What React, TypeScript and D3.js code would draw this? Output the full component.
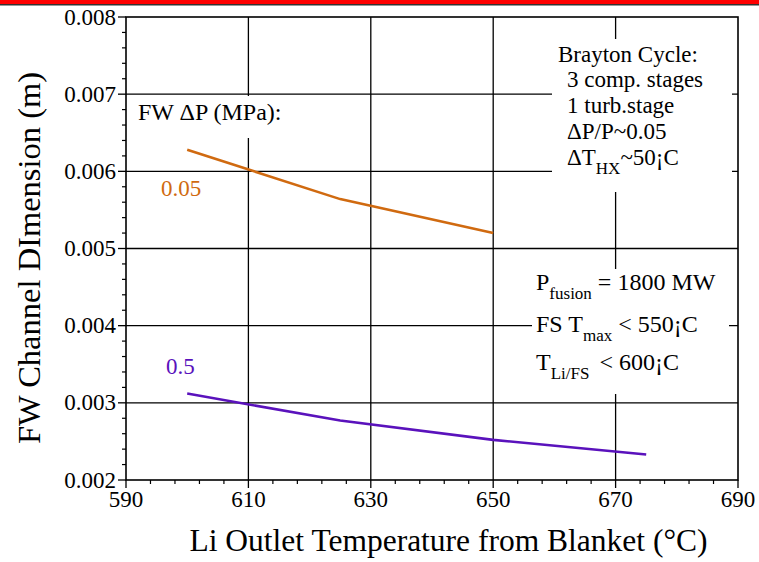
import React from 'react';
import * as d3 from 'd3';

const tempsA = [600, 625, 650];
const dimA = [0.00628, 0.00564, 0.0052];
const tempsB = [600, 625, 650, 675];
const dimB = [0.00312, 0.00277, 0.00252, 0.00233];
const xTicks = [590, 610, 630, 650, 670, 690];
const yTicks = [0.002, 0.003, 0.004, 0.005, 0.006, 0.007, 0.008];
const xGrid = [610, 630, 650, 670];
const yGrid = [0.003, 0.004, 0.005, 0.006, 0.007];

const W = 759;
const H = 562;
const L = 126, R = 738, T = 17, B = 480;
const FONT = '"Liberation Serif", "Times New Roman", serif';
const ORANGE = '#d06a10';
const PURPLE = '#5a12bc';

export default function App() {
  const x = d3.scaleLinear().domain([590, 690]).range([L, R]);
  const y = d3.scaleLinear().domain([0.002, 0.008]).range([B, T]);
  const line = d3.line<[number, number]>().x(d => x(d[0])).y(d => y(d[1]));
  const ptsA = tempsA.map((t, i) => [t, dimA[i]] as [number, number]);
  const ptsB = tempsB.map((t, i) => [t, dimB[i]] as [number, number]);
  const xMinor = d3.range(590, 690.001, 4).filter(v => Math.abs((v - 590) % 20) > 0.01);
  const yMinor = d3.range(0, 31).map(i => 0.002 + i * 0.0002).filter((v, i) => i % 5 !== 0);

  return (
    <svg width={W} height={H} style={{ position: 'absolute', left: 0, top: 0, background: '#fff' }} fontFamily={FONT}>
      <rect x={0} y={0} width={W} height={4} fill="#ff0000" />
      <rect x={0} y={4} width={W} height={1.5} fill="#333" />
      {/* grid */}
      {xGrid.map(v => (
        <line key={'gx' + v} x1={x(v)} x2={x(v)} y1={T} y2={B} stroke="#000" strokeWidth={1.3} />
      ))}
      {yGrid.map(v => (
        <line key={'gy' + v} x1={L} x2={R} y1={y(v)} y2={y(v)} stroke="#000" strokeWidth={1.3} />
      ))}
      {/* white label boxes */}
      <rect x={133} y={96} width={165} height={42} fill="#fff" />
      <rect x={552} y={39} width={180} height={153} fill="#fff" />
      <rect x={532} y={269} width={197} height={125} fill="#fff" />
      {/* frame */}
      <rect x={L} y={T} width={R - L} height={B - T} fill="none" stroke="#000" strokeWidth={1.6} />
      {/* ticks */}
      {xTicks.map(v => (
        <g key={'xt' + v}>
          <line x1={x(v)} x2={x(v)} y1={B} y2={B + 8} stroke="#000" strokeWidth={1.3} />
          <text x={x(v)} y={507} fontSize={23} textAnchor="middle">{v}</text>
        </g>
      ))}
      {xMinor.map(v => (
        <line key={'xm' + v} x1={x(v)} x2={x(v)} y1={B} y2={B + 4} stroke="#000" strokeWidth={1.2} />
      ))}
      {yTicks.map(v => (
        <g key={'yt' + v}>
          <line x1={L - 8} x2={L} y1={y(v)} y2={y(v)} stroke="#000" strokeWidth={1.3} />
          <text x={116} y={y(v) + 7.5} fontSize={23} textAnchor="end">{v.toFixed(3)}</text>
        </g>
      ))}
      {yMinor.map(v => (
        <line key={'ym' + v} x1={L - 4} x2={L} y1={y(v)} y2={y(v)} stroke="#000" strokeWidth={1.2} />
      ))}
      {/* series */}
      <path d={line(ptsA) || ''} fill="none" stroke={ORANGE} strokeWidth={2.6} />
      <path d={line(ptsB) || ''} fill="none" stroke={PURPLE} strokeWidth={2.6} />
      <text x={161} y={196} fontSize={23} fill={ORANGE}>0.05</text>
      <text x={166} y={374} fontSize={23} fill={PURPLE}>0.5</text>
      <text x={138} y={120} fontSize={24}>FW ΔP (MPa):</text>
      {/* Brayton */}
      <g fontSize={23}>
        <text x={558} y={62}>Brayton Cycle:</text>
        <text x={567} y={87}>3 comp. stages</text>
        <text x={567} y={113}>1 turb.stage</text>
        <text x={567} y={139}>ΔP/P~0.05</text>
        <text x={567} y={165}>ΔT<tspan fontSize={17} dy={9}>HX</tspan><tspan dy={-9}>~50¡C</tspan></text>
      </g>
      <g fontSize={24}>
        <text x={536} y={290}>P<tspan fontSize={17} dy={9}>fusion</tspan><tspan dy={-9}> = 1800 MW</tspan></text>
        <text x={536} y={332}>FS T<tspan fontSize={17} dy={9}>max</tspan><tspan dy={-9}> &lt; 550¡C</tspan></text>
        <text x={536} y={370}>T<tspan fontSize={17} dy={9}>Li/FS</tspan><tspan dy={-9} dx={4}> &lt; 600¡C</tspan></text>
      </g>
      {/* axis titles */}
      <text x={448.5} y={551} fontSize={31.5} textAnchor="middle">Li Outlet Temperature from Blanket (°C)</text>
      <text transform={`translate(40, 258) rotate(-90)`} fontSize={32.5} textAnchor="middle">FW Channel DImension (m)</text>
    </svg>
  );
}
